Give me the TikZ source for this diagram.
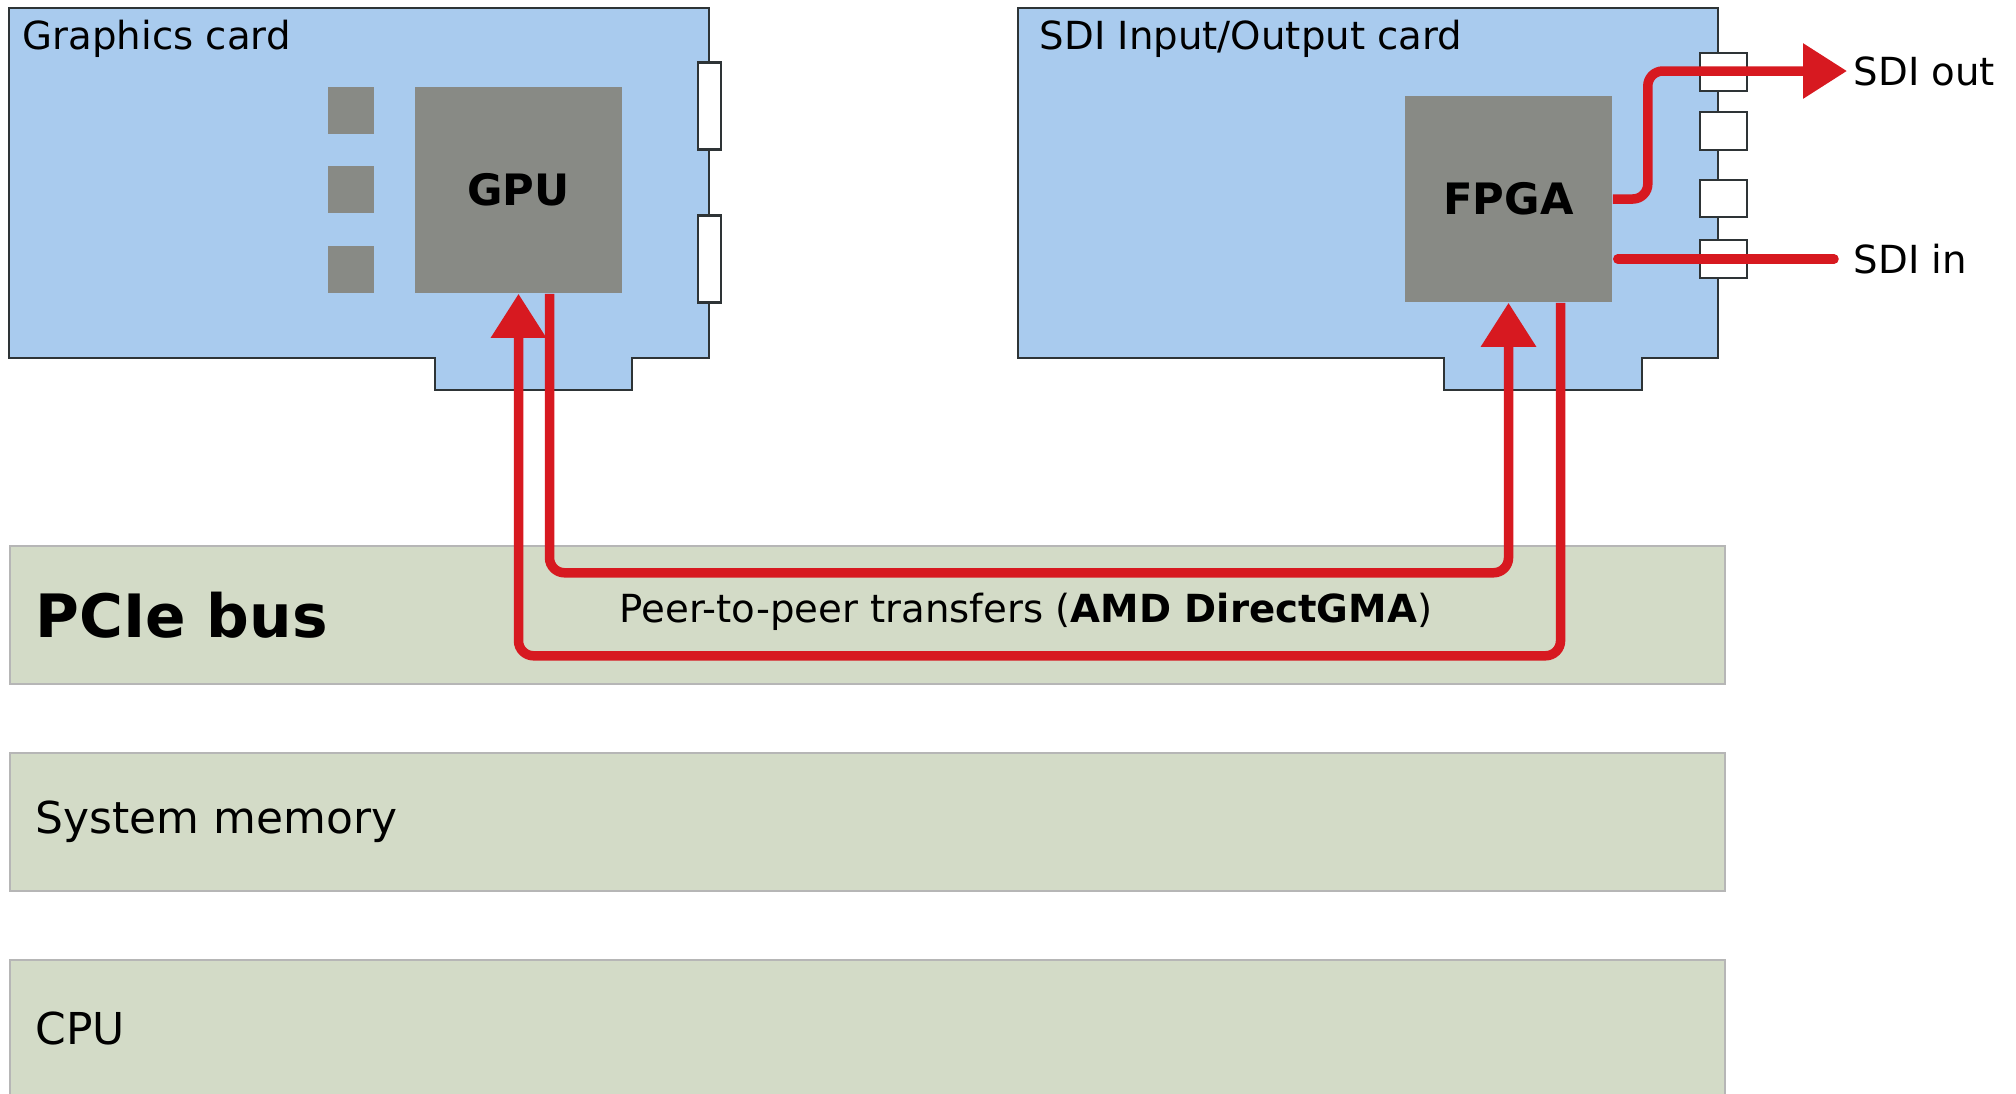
\documentclass[tikz,border=0pt]{standalone}
\usepackage{fontspec}
\setmainfont{DejaVu Sans}
\usepackage{tikz}
\usetikzlibrary{arrows.meta,calc}
\usetikzlibrary{positioning}
\definecolor{clrCard}{RGB}{169,203,238}
\definecolor{clrOutline}{RGB}{46,52,54}
\definecolor{clrChip}{RGB}{136,138,133}
\definecolor{clrBus}{RGB}{211,219,199}
\definecolor{clrBusBorder}{RGB}{182,182,182}
\definecolor{clrData}{RGB}{215,25,32}
\tikzstyle{card}=[draw=clrOutline, fill=clrCard, line width=0.6pt]
\tikzstyle{chip}=[fill=clrChip, inner sep=0pt, minimum width=2.07cm, minimum height=2.06cm,
font=\fontsize{12.3}{14}\selectfont\bfseries]
\tikzstyle{memchip}=[fill=clrChip, inner sep=0pt, minimum width=0.46cm, minimum height=0.47cm]
\tikzstyle{slot}=[draw=clrOutline, fill=white, line width=0.6pt, inner sep=0pt]
\tikzstyle{bus}=[draw=clrBusBorder, fill=clrBus, line width=0.5pt, inner sep=0pt,
anchor=north west, minimum width=17.14cm, minimum height=1.38cm]
\tikzstyle{buslabel}=[inner sep=0pt, font=\fontsize{12.5}{15}\selectfont]
\tikzstyle{cardlabel}=[inner sep=0pt, anchor=base west, font=\fontsize{11}{13}\selectfont]
\tikzstyle{portlabel}=[inner sep=0.06cm, anchor=west, font=\fontsize{11}{13}\selectfont]
\tikzstyle{datapath}=[-{Triangle[length=0.44cm,width=0.53cm]}, draw=clrData,
line width=0.095cm, rounded corners=0.15cm]
\tikzstyle{sdiline}=[draw=clrData, line width=0.095cm, line cap=round]

\begin{document}
\begin{tikzpicture}[x=0.01cm, y=-0.01cm]
	\useasboundingbox (0,0) rectangle (2016,1093);

	% the three system blocks
	\node[bus] (pcie) at (9,545) {};
	\node[bus] (sysmem) at (9,752) {};
	\node[bus] (cpu) at (9,959) {};
	\node[buslabel, right=0.26cm of pcie.west, font=\fontsize{17}{20}\selectfont\bfseries] (pcielabel) {PCIe bus};
	\node[buslabel, right=0.26cm of sysmem.west] (sysmemlabel) {System memory};
	\node[buslabel, right=0.26cm of cpu.west] (cpulabel) {CPU};

	% graphics card
	\draw[card] (9,8) -- (709,8) -- (709,358) -- (632,358) -- (632,390)
		-- (435,390) -- (435,358) -- (9,358) -- cycle;
	\node[cardlabel] (gfxtitle) at (22,49) {Graphics card};
	\node[chip] (GPU) at (518.5,190) {GPU};
	\foreach \y [count=\i] in {110.5,189.5,269}
		\node[memchip] (mem\i) at (351,\y) {};
	\foreach \y [count=\i] in {106,259}
		\node[slot, minimum width=0.23cm, minimum height=0.87cm] (out\i) at (709.5,\y) {};

	% SDI card
	\draw[card] (1018,8) -- (1718,8) -- (1718,358) -- (1642,358) -- (1642,390)
		-- (1444,390) -- (1444,358) -- (1018,358) -- cycle;
	\node[cardlabel] (sdititle) at (1039,49) {SDI Input/Output card};
	\node[chip] (FPGA) at (1508.5,199) {FPGA};
	\foreach \y [count=\i] in {72,131,198.5,259}
		\node[slot, minimum width=0.47cm, minimum height=0.375cm] (port\i) at (1723.5,\y) {};

	\node[portlabel] (sdiout) at (1847,71) {SDI out};
	\node[portlabel] (sdiin) at (1847,259) {SDI in};

	% video in and out
	\draw[datapath] (FPGA.east) -- ++(0.35cm,0) |- (sdiout.west);
	\draw[sdiline] ([xshift=0.05cm]FPGA.east |- sdiin.west) -- ([xshift=-0.13cm]sdiin.west);

	% peer-to-peer over the bus
	\draw[datapath] ([xshift=0.31cm]GPU.south) -- ++(0,279) -| (FPGA.south);
	\draw[datapath] ([xshift=0.52cm]FPGA.south) -- ++(0,353) -| (GPU.south);
	\node[font=\fontsize{11}{13}\selectfont] (p2p) at (1026,612) {Peer-to-peer transfers (\textbf{AMD DirectGMA})};
\end{tikzpicture}
\end{document}
